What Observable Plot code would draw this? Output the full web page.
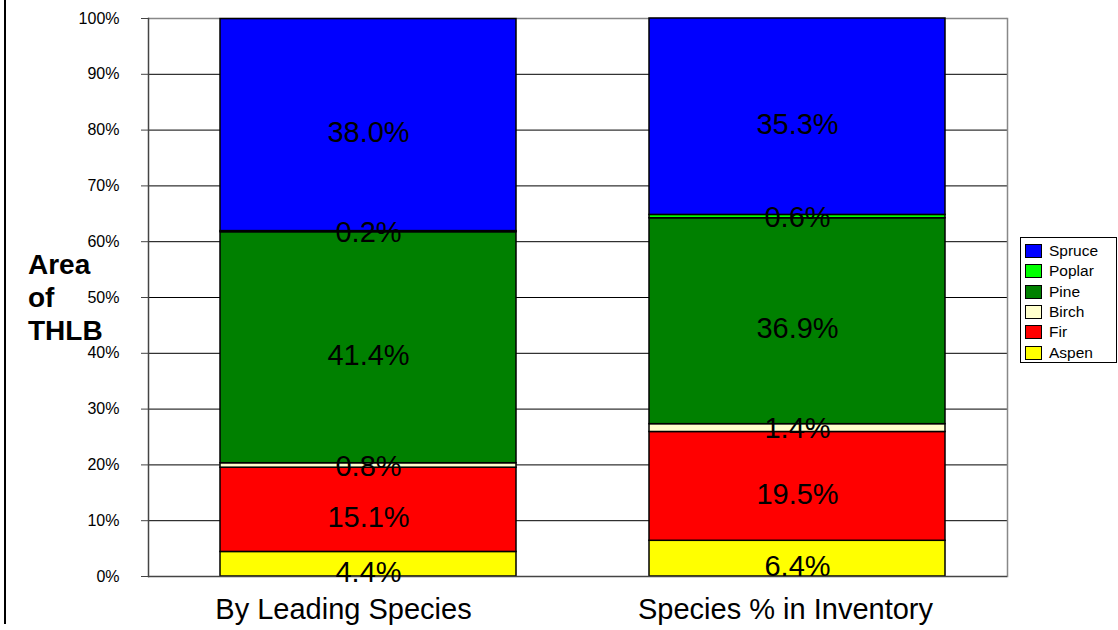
<!DOCTYPE html>
<html>
<head>
<meta charset="utf-8">
<script src="https://cdn.jsdelivr.net/npm/d3@7"></script>
<script src="https://cdn.jsdelivr.net/npm/@observablehq/plot@0.6"></script>
<style>
  html, body { margin: 0; padding: 0; background: #fff; }
  #wrap { position: relative; width: 1118px; height: 630px; font-family: "Liberation Sans", Arial, sans-serif; }
  #vline { position: absolute; left: 4px; top: 0; width: 2px; height: 624px; background: #000; }
  #ytitle { position: absolute; left: 28px; top: 252px; font-weight: bold; font-size: 28px; color: #000; }
  #ytitle div { line-height: 26px; height: 26px; margin-bottom: 7px; }
  #legend { position: absolute; left: 1020px; top: 237px; width: 97px; height: 126px; border: 1px solid #000; box-sizing: border-box; padding-top: 3px; }
  .li { display: flex; align-items: center; height: 20.3px; font-size: 15.5px; }
  .sw { width: 17px; height: 14px; border: 1.3px solid #000; margin-left: 4px; margin-right: 7px; box-sizing: border-box; }
</style>
</head>
<body>
<div id="wrap">
  <div id="vline"></div>
  <div id="chart"></div>
  <div id="ytitle"><div>Area</div><div>of</div><div>THLB</div></div>
  <div id="legend"></div>
</div>
<script>
const categories = ["By Leading Species", "Species % in Inventory"];
const species = ["Aspen", "Fir", "Birch", "Pine", "Poplar", "Spruce"]; // bottom to top
const leadingValues = [4.4, 15.1, 0.8, 41.4, 0.2, 38.0];
const inventoryValues = [6.4, 19.5, 1.4, 36.9, 0.6, 35.3];
const colors = ["#FFFF00", "#FF0000", "#FFFFCC", "#008000", "#00FF00", "#0000FF"];
const legendOrder = ["Spruce", "Poplar", "Pine", "Birch", "Fir", "Aspen"];
const yTicks = [0, 10, 20, 30, 40, 50, 60, 70, 80, 90, 100];

const rows = [];
species.forEach((s, i) => {
  rows.push({cat: categories[0], species: s, value: leadingValues[i]});
  rows.push({cat: categories[1], species: s, value: inventoryValues[i]});
});

// labels: large segments drawn slightly below centre, thin ones nearly centred (as in the reference)
const labelOpts = (keep, dy) => Plot.stackY({
  x: "cat", y: "value", z: "species", order: species,
  text: d => keep(d) ? d.value.toFixed(1) + "%" : "", fontSize: 29, fill: "#000", dy
});

const chart = Plot.plot({
  width: 1118,
  height: 630,
  marginLeft: 148,
  marginRight: 111,
  marginTop: 18,
  marginBottom: 54,
  style: {fontFamily: "Liberation Sans, Arial, sans-serif", background: "#fff", color: "#000"},
  x: {domain: categories, paddingInner: 0.31, paddingOuter: 0.156, align: 0.54, label: null},
  y: {domain: [0, 100], clamp: true, label: null},
  color: {domain: species, range: colors},
  marks: [
    Plot.ruleY(yTicks, {stroke: "#000", strokeWidth: 1}),
    Plot.ruleY([100], {stroke: "#888", strokeWidth: 1.5}),
    Plot.frame({anchor: "right", stroke: "#888", strokeWidth: 1.5}),
    Plot.frame({anchor: "left", stroke: "#444", strokeWidth: 1.5}),
    Plot.barY(rows, Plot.stackY({x: "cat", y: "value", z: "species", order: species, fill: "species", stroke: "#000", strokeWidth: 1.5})),
    Plot.ruleY([0], {stroke: "#444", strokeWidth: 1.5}),
    Plot.text(rows, labelOpts(d => d.value >= 2, 8)),
    Plot.text(rows, labelOpts(d => d.value < 2, 1)),
    Plot.axisY({ticks: yTicks, tickFormat: d => d + "%", tickSize: 7, tickPadding: 22, fontSize: 16, stroke: "#444", label: null}),
    Plot.axisX([categories[0]], {tickSize: 0, tickPadding: 22, fontSize: 29, dx: -25, label: null}),
    Plot.axisX([categories[1]], {tickSize: 0, tickPadding: 22, fontSize: 29, dx: -12, label: null})
  ]
});
document.getElementById("chart").appendChild(chart);

const legend = document.getElementById("legend");
legendOrder.forEach(s => {
  const row = document.createElement("div");
  row.className = "li";
  const sw = document.createElement("div");
  sw.className = "sw";
  sw.style.background = colors[species.indexOf(s)];
  const t = document.createElement("span");
  t.textContent = s;
  row.appendChild(sw);
  row.appendChild(t);
  legend.appendChild(row);
});
</script>
</body>
</html>
